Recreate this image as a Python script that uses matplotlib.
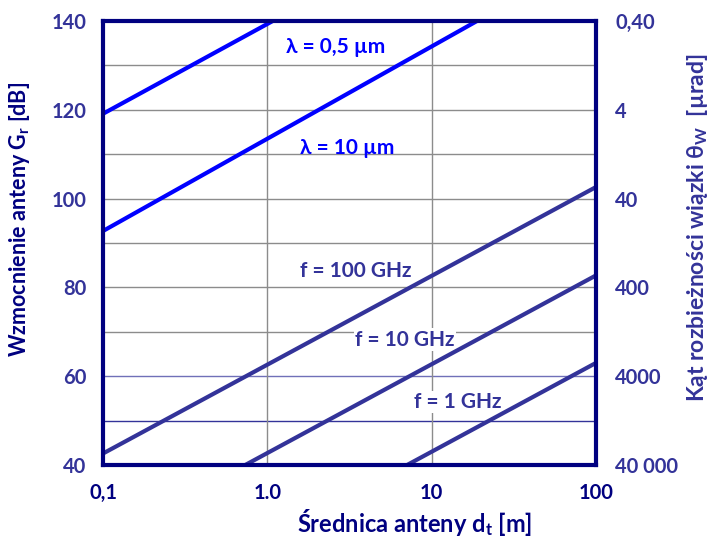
import numpy as np
import matplotlib
matplotlib.use("Agg")
import matplotlib.pyplot as plt

plt.rcParams["font.family"] = ["Lato", "DejaVu Sans"]
plt.rcParams["mathtext.fontset"] = "custom"
plt.rcParams["mathtext.rm"] = "Lato:bold"
plt.rcParams["mathtext.it"] = "Lato:bold"
plt.rcParams["mathtext.bf"] = "Lato:bold"

# ----------------------------
# Data: line end points (diameter in m, gain in dB)
# ----------------------------
dLambda05 = [0.1, 1.08]
gainLambda05 = [119.1, 140.0]
dLambda10 = [0.1, 18.9]
gainLambda10 = [92.7, 140.0]
dRadio = [0.1, 100]
gain100GHz = [42.6, 102.6]
gain10GHz = [22.7, 82.7]
gain1GHz = [3.0, 63.0]

leftTicks = [40, 60, 80, 100, 120, 140]
rightTickLabels = ["40 000", "4000", "400", "40", "4", "0,40"]
xTicks = [0.1, 1, 10, 100]
xTickLabels = ["0,1", "1.0", "10", "100"]

navy = "#000080"
slate = "#333399"
blue = "#0000ff"

fig = plt.figure(figsize=(7.09, 5.37), dpi=100)
ax = fig.add_axes([0.1453, 0.134, 0.6953, 0.827])

ax.set_xscale("log")
ax.set_xlim(0.1, 100)
ax.set_ylim(40, 140)

# grid (the two lowest lines are bluish in the original)
gridColors = {50: "#333399", 60: "#7070b8"}
for g in range(50, 140, 10):
    ax.axhline(g, color=gridColors.get(g, "#8c8c8c"), linewidth=1.0, zorder=1)
for v in [1, 10]:
    ax.axvline(v, color="#8c8c8c", linewidth=1.0, zorder=1)

ax.plot(dLambda05, gainLambda05, color=blue, linewidth=3, zorder=3, solid_capstyle="butt")
ax.plot(dLambda10, gainLambda10, color=blue, linewidth=3, zorder=3, solid_capstyle="butt")
ax.plot(dRadio, gain100GHz, color=slate, linewidth=3, zorder=3, solid_capstyle="butt")
ax.plot(dRadio, gain10GHz, color=slate, linewidth=3, zorder=3, solid_capstyle="butt")
ax.plot(dRadio, gain1GHz, color=slate, linewidth=3, zorder=3, solid_capstyle="butt")

labelKw = dict(fontsize=15, fontweight="bold", ha="center", va="center", zorder=2)
ax.text(2.62, 134.1, "λ = 0,5 µm", color=blue, **labelKw)
ax.text(3.05, 111.4, "λ = 10 µm", color=blue, **labelKw)
ax.text(3.47, 83.7, "f = 100 GHz", color=slate, **labelKw)
ax.text(6.89, 68.2, "f = 10 GHz", color=slate,
        bbox=dict(facecolor="white", edgecolor="none", pad=1), **labelKw)
ax.text(14.5, 54.2, "f = 1 GHz", color=slate,
        bbox=dict(facecolor="white", edgecolor="none", pad=1), **labelKw)

ax.set_yticks(leftTicks)
ax.set_yticklabels([str(t) for t in leftTicks], color=slate, fontsize=14.5, fontweight="bold")
ax.set_xticks(xTicks)
ax.set_xticklabels(xTickLabels, color=navy, fontsize=14.5, fontweight="bold")
ax.minorticks_off()
ax.tick_params(axis="y", length=0, pad=12)
ax.tick_params(axis="x", length=0, pad=13)

for s in ax.spines.values():
    s.set_color(navy)
    s.set_linewidth(3)
    s.set_zorder(5)

fig.text(415 / 709, 1 - 523 / 537, "Średnica anteny d$_\\mathregular{t}$ [m]", color=navy,
         fontsize=17, fontweight="bold", ha="center", va="center")
fig.text(20 / 709, 1 - 219 / 537, "Wzmocnienie anteny G$_\\mathregular{r}$ [dB]", color=navy,
         fontsize=15.5, fontweight="bold", ha="center", va="center", rotation=90)

axR = ax.twinx()
axR.set_ylim(40, 140)
axR.set_yticks(leftTicks)
axR.set_yticklabels(rightTickLabels, color=slate, fontsize=14.5, fontweight="bold")
axR.tick_params(axis="y", length=0, pad=14)
for s in axR.spines.values():
    s.set_visible(False)
fig.text(697 / 709, 1 - 228 / 537, "Kąt rozbieżności wiązki θ$_\\mathregular{W}$  [µrad]",
         color=slate, fontsize=16.5, fontweight="bold", ha="center", va="center", rotation=90)

fig.savefig("out.png", dpi=100)
